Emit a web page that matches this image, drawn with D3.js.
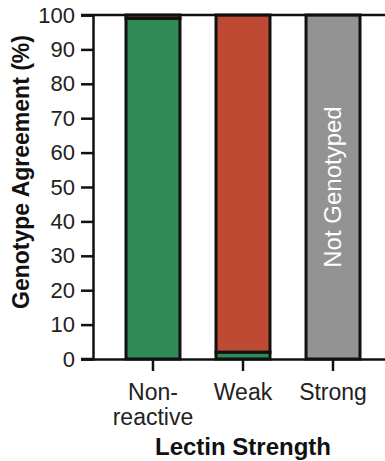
<!DOCTYPE html>
<html>
<head>
<meta charset="utf-8">
<script src="https://cdn.jsdelivr.net/npm/d3@7"></script>
<style>
  body { margin: 0; background: #fff; }
  svg { display: block; font-family: Arial, "Liberation Sans", sans-serif; }
</style>
</head>
<body>
<svg id="chart" width="385" height="461"></svg>
<script>
// data
let categories = ['Non-reactive', 'Weak', 'Strong'];
let tickLines = [['Non-', 'reactive'], ['Weak'], ['Strong']];
let agreement = [99, 2, 0];
let disagreement = [1, 98, 0];
let notGenotyped = [0, 0, 100];
let yTicks = [0, 10, 20, 30, 40, 50, 60, 70, 80, 90, 100];

let colors = {
  agreement: '#2f8a55',
  disagreement: '#bf4a34',
  notGenotyped: '#939393'
};

let svg = d3.select('#chart');

let x = d3.scaleBand()
  .domain(categories)
  .range([93, 393])
  .paddingInner(0.367)
  .paddingOuter(0.35);

let y = d3.scaleLinear()
  .domain([0, 100])
  .range([359, 15]);

// stacked table
let table = categories.map((c, i) => ({
  cat: c,
  agreement: agreement[i],
  disagreement: disagreement[i],
  notGenotyped: notGenotyped[i]
}));
let keys = ['agreement', 'disagreement', 'notGenotyped'];
let series = d3.stack().keys(keys)(table);

// bars
svg.append('g')
  .selectAll('g')
  .data(series)
  .enter()
  .append('g')
  .attr('fill', d => colors[d.key])
  .selectAll('rect')
  .data(d => d.filter(p => p[1] - p[0] > 0))
  .enter()
  .append('rect')
  .attr('x', d => x(d.data.cat) + 1.5)
  .attr('width', x.bandwidth() - 3)
  .attr('y', d => y(d[1]))
  .attr('height', d => y(d[0]) - y(d[1]))
  .attr('stroke', '#111')
  .attr('stroke-width', 3);

// label inside the grey bar
svg.append('text')
  .attr('transform', `translate(${x('Strong') + x.bandwidth() / 2 + 8},${y(50)}) rotate(-90)`)
  .attr('text-anchor', 'middle')
  .attr('fill', '#fff')
  .style('font-size', '24px')
  .text('Not Genotyped');

// Y axis
let yAxis = svg.append('g')
  .attr('transform', 'translate(93,0)')
  .call(d3.axisLeft(y).tickValues(yTicks).tickSize(12).tickPadding(6));
yAxis.select('.domain').attr('stroke', '#111').attr('stroke-width', 2.5);
yAxis.selectAll('.tick line').attr('stroke', '#111').attr('stroke-width', 2.5);
yAxis.selectAll('.tick text')
  .attr('fill', '#222')
  .style('font-size', '22px')
  .attr('font-family', null);

// top line at 100
svg.append('line')
  .attr('x1', 81)
  .attr('x2', 393)
  .attr('y1', y(100))
  .attr('y2', y(100))
  .attr('stroke', '#111')
  .attr('stroke-width', 2.5);

// X axis
let xAxis = svg.append('g')
  .attr('transform', `translate(0,${y(0)})`)
  .call(d3.axisBottom(x).tickSize(12).tickSizeOuter(0).tickFormat(''));
xAxis.select('.domain').attr('stroke', '#111').attr('stroke-width', 2.5);
xAxis.selectAll('.tick line').attr('stroke', '#111').attr('stroke-width', 2.5);

// bottom axis line reaches back to the y tick start
svg.append('line')
  .attr('x1', 81)
  .attr('x2', 93)
  .attr('y1', y(0))
  .attr('y2', y(0))
  .attr('stroke', '#111')
  .attr('stroke-width', 2.5);

// category labels
categories.forEach((c, i) => {
  let t = svg.append('text')
    .attr('text-anchor', 'middle')
    .attr('fill', '#222')
    .style('font-size', '23px');
  tickLines[i].forEach((line, j) => {
    t.append('tspan')
      .attr('x', x(c) + x.bandwidth() / 2)
      .attr('y', 400 + j * 25)
      .text(line);
  });
});

// axis titles
svg.append('text')
  .attr('x', 243)
  .attr('y', 455)
  .attr('text-anchor', 'middle')
  .attr('fill', '#111')
  .style('font-size', '24px')
  .style('font-weight', 'bold')
  .text('Lectin Strength');

svg.append('text')
  .attr('transform', 'translate(29,172) rotate(-90)')
  .attr('text-anchor', 'middle')
  .attr('fill', '#111')
  .style('font-size', '23px')
  .style('font-weight', 'bold')
  .text('Genotype Agreement (%)');
</script>
</body>
</html>
